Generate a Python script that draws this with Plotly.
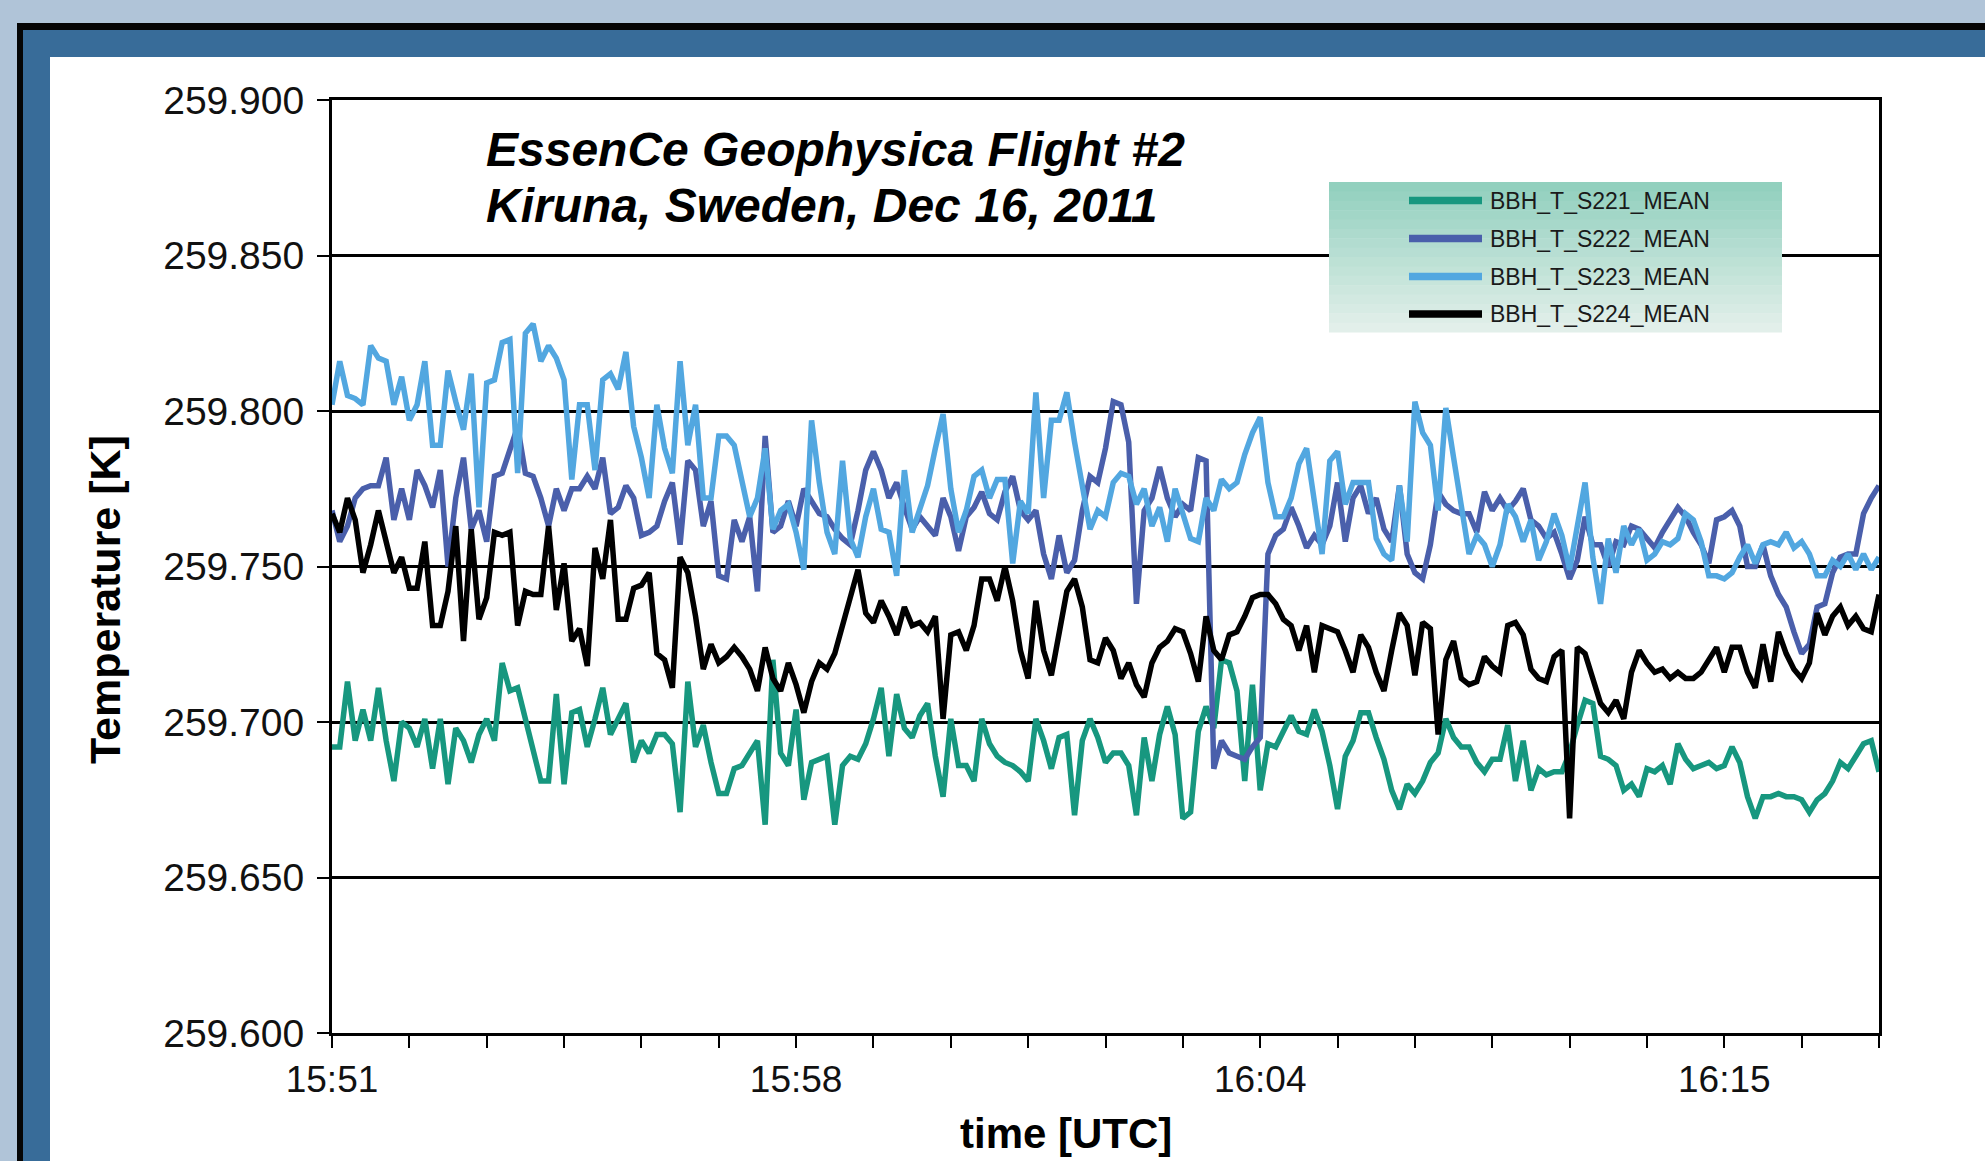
import plotly.graph_objects as go

# ---------------- data ----------------
series_names = ["BBH_T_S221_MEAN", "BBH_T_S222_MEAN", "BBH_T_S223_MEAN", "BBH_T_S224_MEAN"]
series_colors = ["#17977f", "#4a5fab", "#52a7e0", "#000000"]

s221 = [259.692, 259.692, 259.713, 259.694, 259.704, 259.694, 259.711, 259.694, 259.681, 259.700,
        259.698, 259.692, 259.701, 259.685, 259.701, 259.680, 259.698, 259.694, 259.687, 259.696,
        259.701, 259.694, 259.719, 259.710, 259.711, 259.701, 259.690, 259.681, 259.681, 259.709,
        259.680, 259.703, 259.704, 259.692, 259.701, 259.711, 259.696, 259.701, 259.706, 259.687,
        259.694, 259.690, 259.696, 259.696, 259.693, 259.671, 259.713, 259.692, 259.699, 259.687,
        259.677, 259.677, 259.685, 259.686, 259.690, 259.694, 259.667, 259.720, 259.690, 259.686,
        259.704, 259.675, 259.687, 259.688, 259.689, 259.667, 259.686, 259.689, 259.688, 259.693,
        259.701, 259.711, 259.689, 259.709, 259.698, 259.695, 259.702, 259.706, 259.689, 259.676,
        259.701, 259.686, 259.686, 259.681, 259.701, 259.693, 259.689, 259.687, 259.686, 259.684,
        259.681, 259.701, 259.694, 259.685, 259.695, 259.696, 259.670, 259.694, 259.701, 259.695,
        259.687, 259.690, 259.690, 259.686, 259.670, 259.695, 259.681, 259.696, 259.705, 259.696,
        259.669, 259.671, 259.697, 259.705, 259.698, 259.720, 259.719, 259.710, 259.681, 259.712,
        259.678, 259.693, 259.692, 259.697, 259.702, 259.697, 259.696, 259.704, 259.697, 259.686,
        259.672, 259.689, 259.694, 259.703, 259.703, 259.695, 259.688, 259.678, 259.672, 259.680,
        259.677, 259.681, 259.687, 259.690, 259.701, 259.695, 259.692, 259.692, 259.687, 259.684,
        259.688, 259.688, 259.699, 259.681, 259.694, 259.678, 259.685, 259.683, 259.684, 259.684,
        259.690, 259.699, 259.707, 259.706, 259.689, 259.688, 259.686, 259.678, 259.680, 259.676,
        259.685, 259.684, 259.686, 259.680, 259.693, 259.688, 259.685, 259.686, 259.687, 259.685,
        259.686, 259.692, 259.687, 259.676, 259.669, 259.676, 259.676, 259.677, 259.676, 259.676,
        259.675, 259.671, 259.675, 259.677, 259.681, 259.687, 259.685, 259.689, 259.693, 259.694,
        259.684]

s222 = [259.768, 259.758, 259.763, 259.772, 259.775, 259.776, 259.776, 259.785, 259.765, 259.775,
        259.765, 259.781, 259.776, 259.769, 259.781, 259.750, 259.772, 259.785, 259.762, 259.768,
        259.758, 259.779, 259.780, 259.788, 259.795, 259.780, 259.779, 259.772, 259.763, 259.775,
        259.768, 259.775, 259.775, 259.779, 259.775, 259.785, 259.767, 259.769, 259.776, 259.772,
        259.760, 259.761, 259.763, 259.771, 259.777, 259.757, 259.784, 259.781, 259.763, 259.771,
        259.747, 259.746, 259.765, 259.758, 259.766, 259.742, 259.792, 259.761, 259.763, 259.771,
        259.763, 259.775, 259.771, 259.767, 259.766, 259.762, 259.759, 259.757, 259.768, 259.781,
        259.787, 259.781, 259.772, 259.777, 259.769, 259.762, 259.766, 259.763, 259.760, 259.772,
        259.766, 259.755, 259.766, 259.769, 259.774, 259.767, 259.765, 259.774, 259.779, 259.768,
        259.765, 259.768, 259.754, 259.746, 259.760, 259.748, 259.752, 259.768, 259.779, 259.777,
        259.788, 259.803, 259.802, 259.790, 259.738, 259.768, 259.772, 259.782, 259.772, 259.766,
        259.770, 259.768, 259.785, 259.784, 259.685, 259.694, 259.690, 259.689, 259.688, 259.692,
        259.695, 259.754, 259.760, 259.762, 259.769, 259.763, 259.756, 259.760, 259.757, 259.763,
        259.777, 259.758, 259.772, 259.776, 259.767, 259.772, 259.762, 259.758, 259.776, 259.754,
        259.748, 259.746, 259.757, 259.774, 259.770, 259.768, 259.767, 259.767, 259.761, 259.774,
        259.768, 259.772, 259.768, 259.771, 259.775, 259.765, 259.763, 259.759, 259.761, 259.754,
        259.746, 259.752, 259.766, 259.757, 259.757, 259.750, 259.758, 259.757, 259.763, 259.762,
        259.759, 259.756, 259.761, 259.765, 259.769, 259.766, 259.761, 259.757, 259.751, 259.765,
        259.766, 259.768, 259.763, 259.750, 259.750, 259.757, 259.747, 259.741, 259.737, 259.729,
        259.722, 259.725, 259.737, 259.738, 259.748, 259.753, 259.754, 259.754, 259.767, 259.772,
        259.776]

s223 = [259.802, 259.816, 259.805, 259.804, 259.802, 259.821, 259.817, 259.816, 259.802, 259.811,
        259.797, 259.802, 259.816, 259.789, 259.789, 259.813, 259.803, 259.794, 259.812, 259.769,
        259.809, 259.810, 259.822, 259.823, 259.780, 259.825, 259.828, 259.816, 259.821, 259.817,
        259.810, 259.778, 259.802, 259.802, 259.781, 259.810, 259.812, 259.807, 259.819, 259.795,
        259.785, 259.772, 259.802, 259.788, 259.780, 259.816, 259.789, 259.802, 259.772, 259.772,
        259.792, 259.792, 259.789, 259.777, 259.766, 259.772, 259.788, 259.762, 259.768, 259.770,
        259.761, 259.749, 259.797, 259.777, 259.761, 259.754, 259.784, 259.759, 259.753, 259.766,
        259.775, 259.762, 259.761, 259.747, 259.781, 259.761, 259.768, 259.776, 259.788, 259.799,
        259.775, 259.761, 259.768, 259.779, 259.781, 259.772, 259.778, 259.778, 259.751, 259.771,
        259.767, 259.806, 259.772, 259.797, 259.797, 259.806, 259.790, 259.777, 259.762, 259.768,
        259.766, 259.777, 259.780, 259.779, 259.770, 259.775, 259.763, 259.769, 259.758, 259.775,
        259.767, 259.759, 259.758, 259.772, 259.768, 259.778, 259.775, 259.777, 259.786, 259.793,
        259.798, 259.777, 259.766, 259.766, 259.772, 259.783, 259.788, 259.770, 259.754, 259.784,
        259.787, 259.770, 259.777, 259.777, 259.777, 259.759, 259.754, 259.752, 259.776, 259.758,
        259.803, 259.793, 259.789, 259.768, 259.801, 259.785, 259.768, 259.754, 259.760, 259.757,
        259.750, 259.757, 259.770, 259.766, 259.758, 259.765, 259.752, 259.758, 259.767, 259.760,
        259.749, 259.763, 259.777, 259.753, 259.738, 259.759, 259.748, 259.763, 259.757, 259.762,
        259.752, 259.754, 259.758, 259.757, 259.759, 259.767, 259.765, 259.758, 259.747, 259.747,
        259.746, 259.748, 259.753, 259.757, 259.751, 259.757, 259.758, 259.757, 259.761, 259.756,
        259.758, 259.754, 259.747, 259.747, 259.752, 259.750, 259.754, 259.749, 259.754, 259.749,
        259.753]

s224 = [259.767, 259.761, 259.772, 259.765, 259.748, 259.757, 259.768, 259.757, 259.748, 259.753,
        259.743, 259.743, 259.758, 259.731, 259.731, 259.742, 259.763, 259.726, 259.762, 259.733,
        259.740, 259.761, 259.760, 259.761, 259.731, 259.742, 259.741, 259.741, 259.763, 259.736,
        259.751, 259.726, 259.730, 259.718, 259.756, 259.746, 259.765, 259.733, 259.733, 259.743,
        259.744, 259.748, 259.722, 259.720, 259.711, 259.753, 259.748, 259.734, 259.717, 259.725,
        259.719, 259.721, 259.724, 259.721, 259.717, 259.710, 259.724, 259.714, 259.710, 259.719,
        259.712, 259.703, 259.713, 259.719, 259.717, 259.722, 259.731, 259.740, 259.749, 259.735,
        259.732, 259.739, 259.734, 259.728, 259.737, 259.731, 259.732, 259.729, 259.734, 259.701,
        259.728, 259.729, 259.723, 259.731, 259.746, 259.746, 259.739, 259.750, 259.739, 259.723,
        259.714, 259.739, 259.723, 259.715, 259.729, 259.742, 259.746, 259.737, 259.720, 259.719,
        259.727, 259.723, 259.714, 259.719, 259.712, 259.708, 259.719, 259.724, 259.726, 259.730,
        259.729, 259.722, 259.713, 259.734, 259.723, 259.720, 259.728, 259.729, 259.734, 259.740,
        259.741, 259.741, 259.738, 259.733, 259.731, 259.723, 259.731, 259.716, 259.731, 259.730,
        259.729, 259.723, 259.716, 259.728, 259.724, 259.716, 259.710, 259.723, 259.735, 259.731,
        259.715, 259.732, 259.730, 259.696, 259.720, 259.726, 259.714, 259.712, 259.713, 259.721,
        259.718, 259.716, 259.731, 259.732, 259.728, 259.717, 259.714, 259.713, 259.721, 259.723,
        259.669, 259.724, 259.722, 259.714, 259.706, 259.703, 259.707, 259.701, 259.716, 259.723,
        259.719, 259.716, 259.717, 259.714, 259.716, 259.714, 259.714, 259.716, 259.720, 259.724,
        259.716, 259.724, 259.724, 259.716, 259.711, 259.725, 259.713, 259.729, 259.722, 259.717,
        259.714, 259.719, 259.735, 259.728, 259.734, 259.737, 259.731, 259.734, 259.730, 259.729,
        259.741]

series_values = [s221, s222, s223, s224]
sample_index = list(range(len(s221)))

x_minor_step = 10
x_label_positions = [0, 60, 120, 180]
x_label_texts = ["15:51", "15:58", "16:04", "16:15"]
y_tick_values = [259.600, 259.650, 259.700, 259.750, 259.800, 259.850, 259.900]
x_title = "time [UTC]"
y_title = "Temperature [K]"
chart_title_lines = ["EssenCe Geophysica Flight #2", "Kiruna, Sweden, Dec 16, 2011"]

# ---------------- geometry (pixels) ----------------
W, H = 1985, 1161
L, R, T, B = 332, 1879, 100, 1033


def fx(px):
    return (px - L) / (R - L)


def fy(py):
    return (B - py) / (B - T)


FONT = "Liberation Sans, Arial, sans-serif"

fig = go.Figure()
for name, color, vals in zip(series_names, series_colors, series_values):
    fig.add_trace(go.Scatter(
        x=sample_index, y=vals, name=name, mode="lines",
        line=dict(color=color, width=5.5), showlegend=False,
        hovertemplate="%{y:.3f}<extra>" + name + "</extra>"))

tickvals = list(range(0, len(s221), x_minor_step))
ticktext = [x_label_texts[x_label_positions.index(v)] if v in x_label_positions else "" for v in tickvals]

shapes = []
# slide frame: outer black border, blue band, white panel
shapes.append(dict(type="rect", xref="paper", yref="paper", layer="below",
                   x0=fx(17), x1=fx(2300), y0=fy(1400), y1=fy(23),
                   fillcolor="#050505", line=dict(width=0)))
shapes.append(dict(type="rect", xref="paper", yref="paper", layer="below",
                   x0=fx(23), x1=fx(2300), y0=fy(1400), y1=fy(30),
                   fillcolor="#386c99", line=dict(width=0)))
shapes.append(dict(type="rect", xref="paper", yref="paper", layer="below",
                   x0=fx(50), x1=fx(2300), y0=fy(1400), y1=fy(57),
                   fillcolor="#ffffff", line=dict(width=0)))

# legend box with vertical gradient
lx0, lx1, ly0, ly1 = 1329, 1782, 182, 332
n_strips = 16
c_top = (146, 208, 190)
c_bot = (226, 239, 234)
for k in range(n_strips):
    t = k / (n_strips - 1)
    c = tuple(int(round(c_top[j] + (c_bot[j] - c_top[j]) * t)) for j in range(3))
    ya = ly0 + (ly1 - ly0) * k / n_strips
    yb = ly0 + (ly1 - ly0) * (k + 1) / n_strips
    shapes.append(dict(type="rect", xref="paper", yref="paper", layer="above",
                       x0=fx(lx0), x1=fx(lx1), y0=fy(yb + 0.5), y1=fy(ya),
                       fillcolor="rgb(%d,%d,%d)" % c, line=dict(width=0)))

row_y = [200.5, 238.5, 276.5, 314.0]
annotations = []
for name, color, ry in zip(series_names, series_colors, row_y):
    shapes.append(dict(type="line", xref="paper", yref="paper", layer="above",
                       x0=fx(1409), x1=fx(1482), y0=fy(ry), y1=fy(ry),
                       line=dict(color=color, width=7.5)))
    annotations.append(dict(text=name, xref="paper", yref="paper",
                            x=fx(1488), y=fy(ry), xanchor="left", yanchor="middle",
                            showarrow=False, font=dict(family=FONT, size=23, color="#1a1a1a")))

# chart title inside plot
for line_text, cy in zip(chart_title_lines, [149, 205]):
    annotations.append(dict(text="<b><i>" + line_text + "</i></b>", xref="paper", yref="paper",
                            x=fx(484), y=fy(cy), xanchor="left", yanchor="middle", showarrow=False,
                            font=dict(family=FONT, size=48, color="#000000")))

# axis titles (placed as in the original slide, slightly off-centre)
annotations.append(dict(text="<b>" + x_title + "</b>", xref="paper", yref="paper",
                        x=fx(1066), y=fy(1133), xanchor="center", yanchor="middle", showarrow=False,
                        font=dict(family=FONT, size=42, color="#000000")))
annotations.append(dict(text="<b>" + y_title + "</b>", xref="paper", yref="paper",
                        x=fx(105), y=fy(600), xanchor="center", yanchor="middle", showarrow=False,
                        textangle=-90, font=dict(family=FONT, size=43, color="#000000")))

fig.update_layout(
    width=W, height=H,
    margin=dict(l=L, r=W - R, t=T, b=H - B, pad=0),
    paper_bgcolor="#b0c4d8",
    plot_bgcolor="#ffffff",
    shapes=shapes,
    annotations=annotations,
    showlegend=False,
    xaxis=dict(
        range=[0, len(s221) - 1], tickmode="array", tickvals=tickvals, ticktext=ticktext,
        ticks="outside", ticklen=12, tickwidth=1.5, tickcolor="#000000",
        showline=True, linewidth=3, linecolor="#000000", mirror=True,
        showgrid=False, zeroline=False,
        tickfont=dict(family=FONT, size=37, color="#111111"),
    ),
    yaxis=dict(
        range=[259.6, 259.9], tickmode="array", tickvals=y_tick_values, tickformat=".3f",
        ticks="outside", ticklen=12, tickwidth=1.5, tickcolor="#000000",
        showline=True, linewidth=3, linecolor="#000000", mirror=True,
        showgrid=True, gridcolor="#000000", gridwidth=2.5, zeroline=False,
        tickfont=dict(family=FONT, size=39, color="#111111"),
        ticklabelstandoff=5,
    ),
)

fig.write_html("out.html",
               config={"displayModeBar": False},
               post_script="document.body.style.margin='0px';document.body.style.overflow='hidden';"
                           "document.body.style.background='#b0c4d8';")
